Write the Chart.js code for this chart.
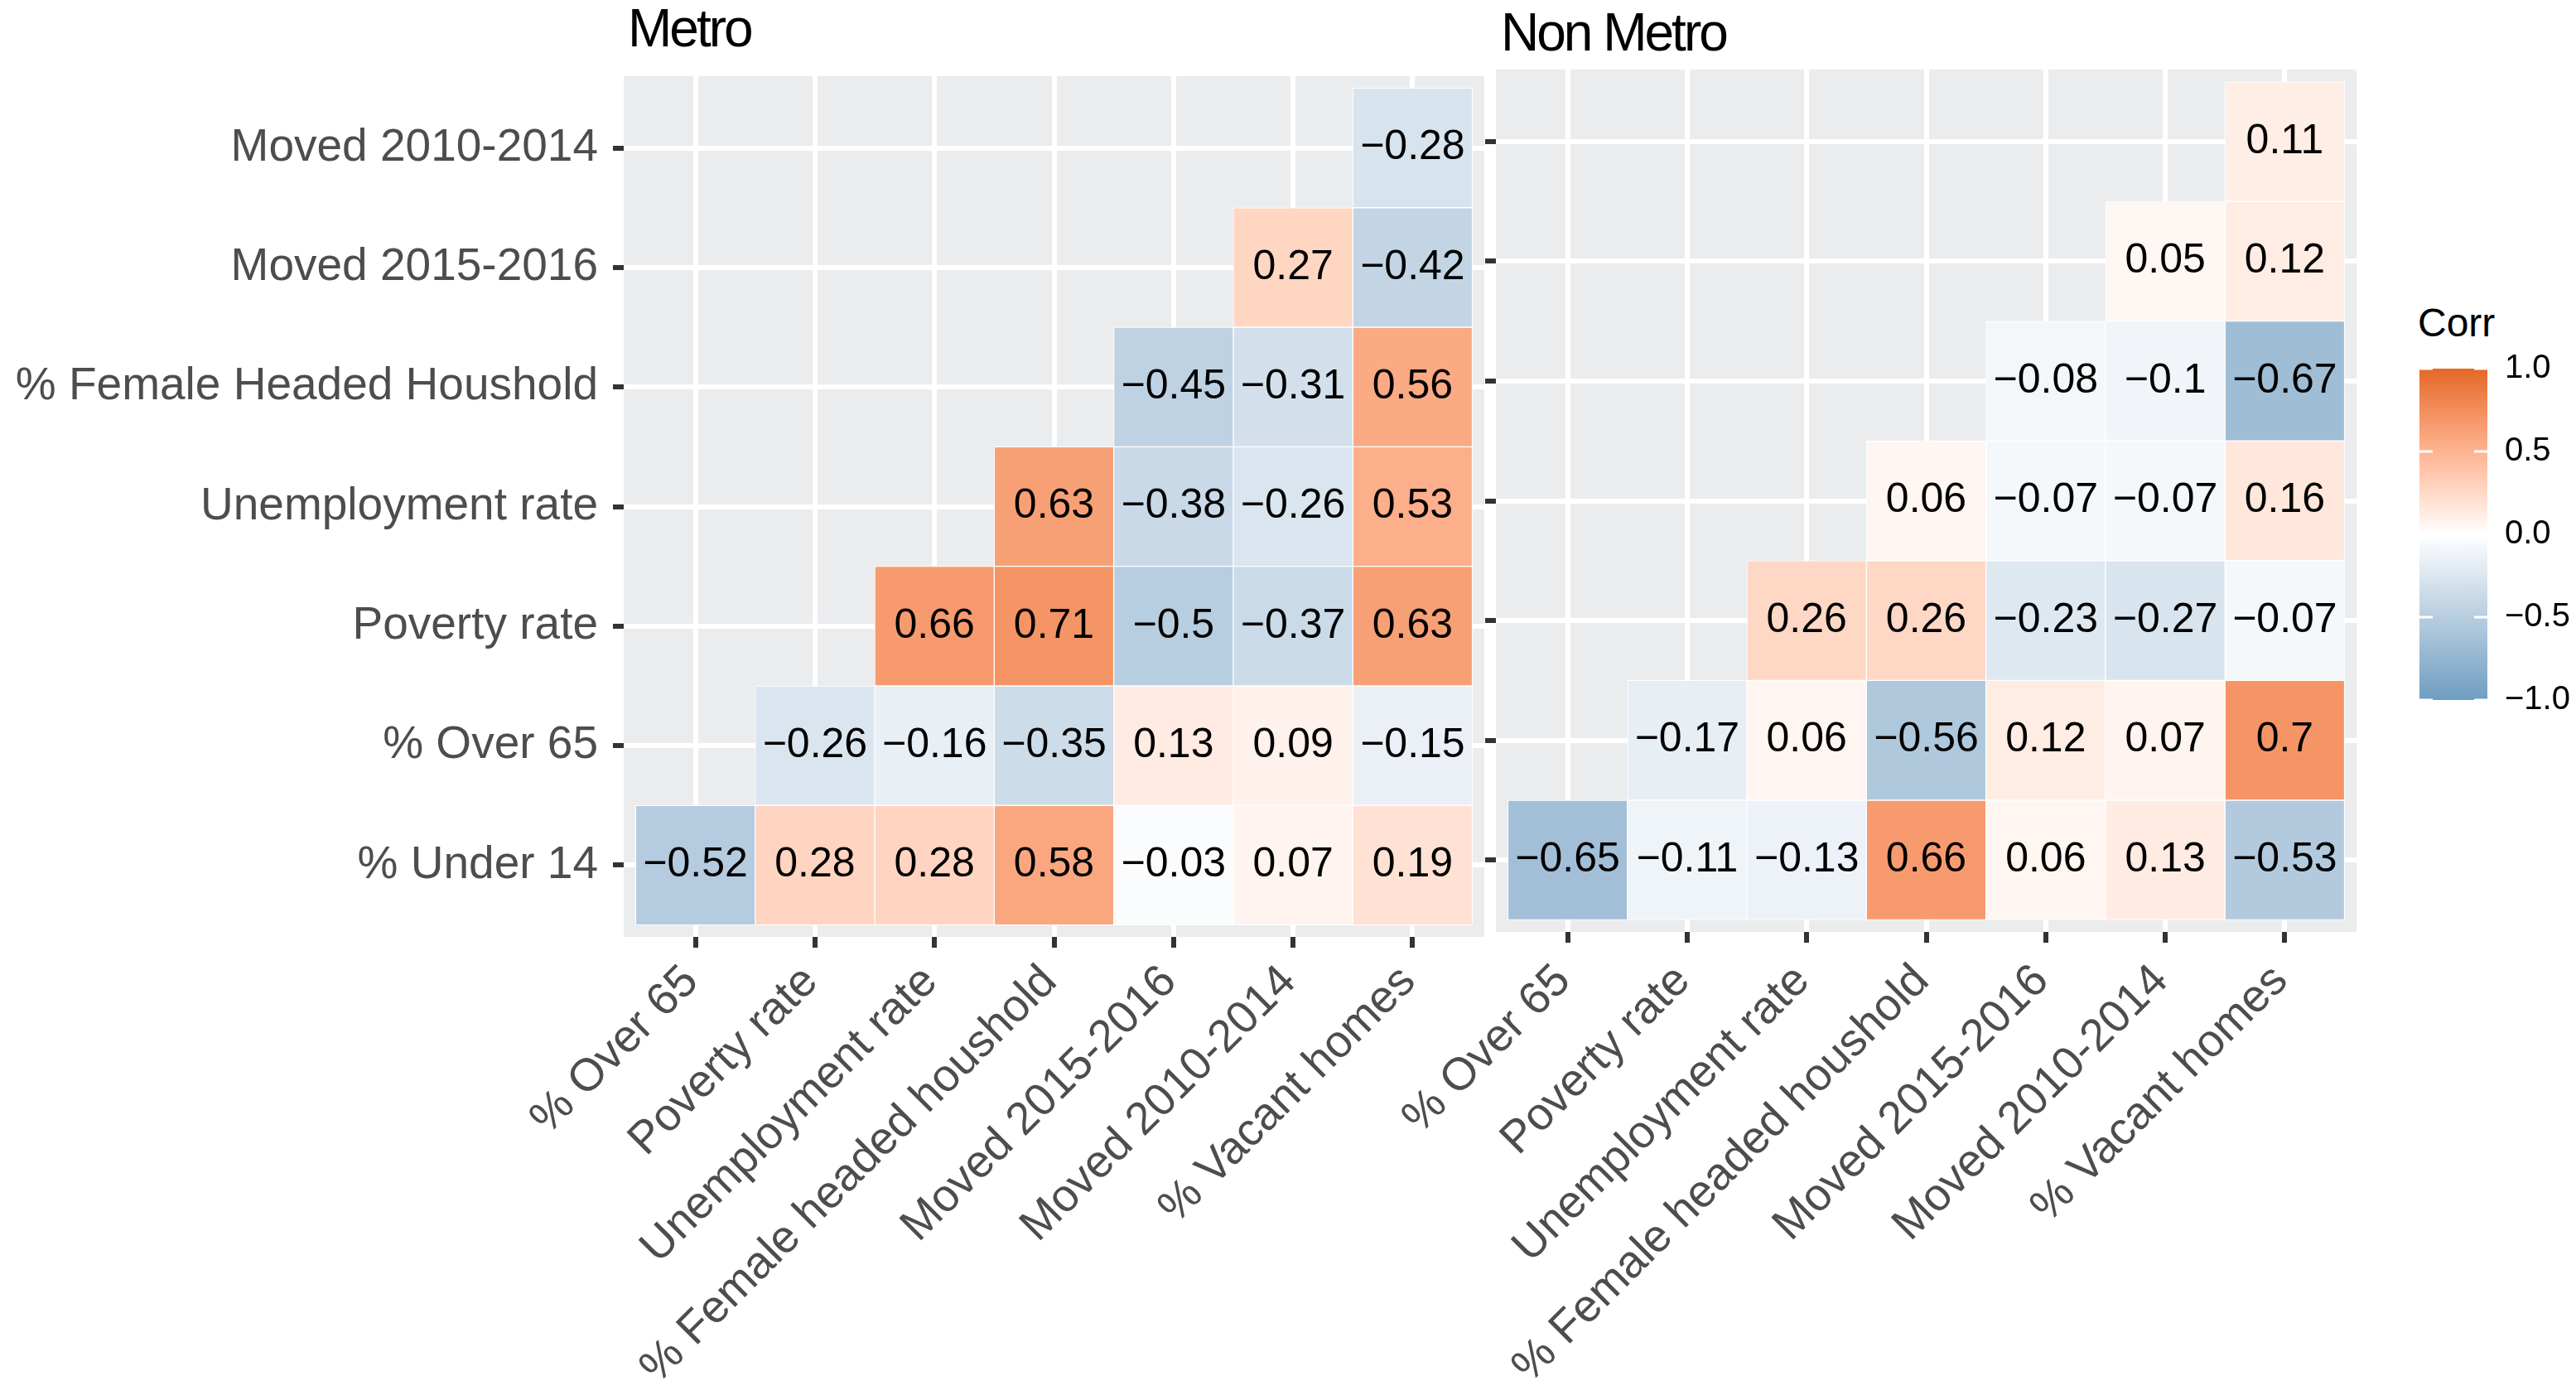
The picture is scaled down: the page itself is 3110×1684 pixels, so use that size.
<!DOCTYPE html>
<html>
<head>
<meta charset="utf-8">
<script src="https://cdn.jsdelivr.net/npm/chart.js@4.4.0/dist/chart.umd.min.js"></script>
<style>
  html, body { margin: 0; padding: 0; background: #fff; width: 3110px; height: 1684px; overflow: hidden; }
  canvas { position: absolute; }
  .ttl { position: absolute; font-family: 'Liberation Sans', Arial, sans-serif; color: #000; line-height: 1; white-space: nowrap; }
</style>
</head>
<body>
<div class="ttl" style="left:758px;top:2px;font-size:64px;letter-spacing:-3px">Metro</div>
<div class="ttl" style="left:1812px;top:7px;font-size:64px;letter-spacing:-3px">Non Metro</div>
<div class="ttl" style="left:2919px;top:366px;font-size:48px">Corr</div>
<canvas id="metro" width="1792" height="1684" style="left:0;top:0"></canvas>
<canvas id="nonmetro" width="1445" height="1684" style="left:1400px;top:0"></canvas>
<canvas id="legend" width="189" height="500" style="left:2921px;top:400px"></canvas>
<script>
// axis variables, rows listed top to bottom
const rowLabels = ['Moved 2010-2014', 'Moved 2015-2016', '% Female Headed Houshold',
  'Unemployment rate', 'Poverty rate', '% Over 65', '% Under 14'];
const colLabels = ['% Over 65', 'Poverty rate', 'Unemployment rate', '% Female headed houshold',
  'Moved 2015-2016', 'Moved 2010-2014', '% Vacant homes'];

// lower triangle of the correlation matrices (null = cell not drawn)
const metroCorr = [
  [null, null, null, null, null, null, -0.28],
  [null, null, null, null, null, 0.27, -0.42],
  [null, null, null, null, -0.45, -0.31, 0.56],
  [null, null, null, 0.63, -0.38, -0.26, 0.53],
  [null, null, 0.66, 0.71, -0.5, -0.37, 0.63],
  [null, -0.26, -0.16, -0.35, 0.13, 0.09, -0.15],
  [-0.52, 0.28, 0.28, 0.58, -0.03, 0.07, 0.19]
];
const nonMetroCorr = [
  [null, null, null, null, null, null, 0.11],
  [null, null, null, null, null, 0.05, 0.12],
  [null, null, null, null, -0.08, -0.1, -0.67],
  [null, null, null, 0.06, -0.07, -0.07, 0.16],
  [null, null, 0.26, 0.26, -0.23, -0.27, -0.07],
  [null, -0.17, 0.06, -0.56, 0.12, 0.07, 0.7],
  [-0.65, -0.11, -0.13, 0.66, 0.06, 0.13, -0.53]
];
const legendTicks = [-1, -0.5, 0, 0.5, 1];

const LOW = '#6D9EC1', MID = '#FFFFFF', HIGH = '#E46726';

Chart.defaults.font.family = "'Liberation Sans', Arial, sans-serif";

// --- colour ramp in CIELAB, like scale_fill_gradient2 ---
const WHITE_PT = [0.95047, 1, 1.08883];

function hexToLab(hex) {
  const lin = [1, 3, 5].map(i => {
    const c = parseInt(hex.substr(i, 2), 16) / 255;
    return c <= 0.04045 ? c / 12.92 : Math.pow((c + 0.055) / 1.055, 2.4);
  });
  const X = 0.4124564 * lin[0] + 0.3575761 * lin[1] + 0.1804375 * lin[2];
  const Y = 0.2126729 * lin[0] + 0.7151522 * lin[1] + 0.0721750 * lin[2];
  const Z = 0.0193339 * lin[0] + 0.1191920 * lin[1] + 0.9503041 * lin[2];
  const f = t => t > Math.pow(6 / 29, 3) ? Math.cbrt(t) : t / (3 * Math.pow(6 / 29, 2)) + 4 / 29;
  const fx = f(X / WHITE_PT[0]), fy = f(Y / WHITE_PT[1]), fz = f(Z / WHITE_PT[2]);
  return [116 * fy - 16, 500 * (fx - fy), 200 * (fy - fz)];
}

function labToRgb(lab) {
  const fy = (lab[0] + 16) / 116;
  const fx = fy + lab[1] / 500;
  const fz = fy - lab[2] / 200;
  const finv = t => t > 6 / 29 ? t * t * t : 3 * Math.pow(6 / 29, 2) * (t - 4 / 29);
  const X = WHITE_PT[0] * finv(fx), Y = WHITE_PT[1] * finv(fy), Z = WHITE_PT[2] * finv(fz);
  const lin = [
    3.2404542 * X - 1.5371385 * Y - 0.4985314 * Z,
    -0.9692660 * X + 1.8760108 * Y + 0.0415560 * Z,
    0.0556434 * X - 0.2040259 * Y + 1.0572252 * Z
  ];
  const rgb = lin.map(c => {
    const v = c <= 0.0031308 ? 12.92 * c : 1.055 * Math.pow(c, 1 / 2.4) - 0.055;
    return Math.round(Math.max(0, Math.min(1, v)) * 255);
  });
  return 'rgb(' + rgb.join(',') + ')';
}

const labLow = hexToLab(LOW), labMid = hexToLab(MID), labHigh = hexToLab(HIGH);

function corrColor(v) {
  const end = v >= 0 ? labHigh : labLow;
  const t = Math.min(1, Math.abs(v));
  return labToRgb(labMid.map((m, i) => m + (end[i] - m) * t));
}

function fmtCorr(v) {
  return String(v).replace('-', '\u2212');
}

function fmtTick(v) {
  return (v < 0 ? '\u2212' : '') + Math.abs(v).toFixed(1);
}

// grey panel behind the tiles
const panelBackground = {
  id: 'panelBackground',
  beforeDraw(chart) {
    const { ctx, chartArea: a } = chart;
    ctx.save();
    ctx.fillStyle = '#EBECEE';
    ctx.fillRect(a.left, a.top, a.width, a.height);
    ctx.restore();
  }
};

// correlation value written in the middle of each tile
const cellLabels = {
  id: 'cellLabels',
  afterDatasetsDraw(chart) {
    const ctx = chart.ctx;
    const meta = chart.getDatasetMeta(0);
    const cells = chart.data.datasets[0].data;
    ctx.save();
    ctx.font = "50px 'Liberation Sans', Arial, sans-serif";
    ctx.fillStyle = '#000000';
    ctx.textAlign = 'center';
    ctx.textBaseline = 'middle';
    meta.data.forEach((bar, i) => {
      const p = bar.getCenterPoint();
      ctx.fillText(fmtCorr(cells[i].v), p.x, p.y);
    });
    ctx.restore();
  }
};

function makePanel(canvasId, matrix, opts) {
  const cells = [];
  matrix.forEach((row, r) => row.forEach((v, c) => {
    if (v !== null) cells.push({ x: c, y: [r - 0.5, r + 0.5], v: v });
  }));

  return new Chart(document.getElementById(canvasId), {
    type: 'bar',
    data: {
      datasets: [{
        data: cells,
        backgroundColor: ctx => (ctx.raw ? corrColor(ctx.raw.v) : MID),
        borderColor: '#FFFFFF',
        borderWidth: 1,
        borderSkipped: false,
        barPercentage: 1,
        categoryPercentage: 1
      }]
    },
    options: {
      responsive: false,
      animation: false,
      layout: { padding: { top: opts.top, left: 0, right: 0, bottom: 0 } },
      plugins: { legend: { display: false }, tooltip: { enabled: false } },
      scales: {
        x: {
          type: 'linear',
          min: -0.6,
          max: 6.6,
          offset: false,
          grid: { offset: false, color: '#FFFFFF', lineWidth: 6, tickColor: '#333333', tickWidth: 6, tickLength: 13 },
          border: { display: false },
          afterBuildTicks: s => { s.ticks = colLabels.map((_, i) => ({ value: i })); },
          afterFit: s => { s.height = opts.xHeight; },
          ticks: {
            autoSkip: false,
            minRotation: 45,
            maxRotation: 45,
            padding: opts.xPad,
            labelOffset: -5,
            color: '#4D4D4D',
            font: { size: 55 },
            callback: v => colLabels[v]
          }
        },
        y: {
          type: 'linear',
          reverse: true,
          min: -0.6,
          max: 6.6,
          grid: { color: '#FFFFFF', lineWidth: 6, tickColor: '#333333', tickWidth: 6, tickLength: 13 },
          border: { display: false },
          afterBuildTicks: s => { s.ticks = rowLabels.map((_, i) => ({ value: i })); },
          afterFit: s => { s.width = opts.yWidth; },
          ticks: {
            autoSkip: false,
            padding: 18,
            color: '#4D4D4D',
            font: { size: 55 },
            callback: v => (opts.showY ? rowLabels[v] : '')
          }
        }
      }
    },
    plugins: [panelBackground, cellLabels]
  });
}

makePanel('metro', metroCorr, { top: 92, xHeight: 553, yWidth: 753, xPad: 9, showY: true });
makePanel('nonmetro', nonMetroCorr, { top: 84, xHeight: 559, yWidth: 406, xPad: 14, showY: false });

// --- colour bar legend ---
function barGradient(chart) {
  if (!chart.chartArea) return MID;
  const ys = chart.scales.y;
  const lo = legendTicks[0], hi = legendTicks[legendTicks.length - 1];
  const g = chart.ctx.createLinearGradient(0, ys.getPixelForValue(lo), 0, ys.getPixelForValue(hi));
  for (let i = 0; i <= 40; i++) {
    const t = i / 40;
    g.addColorStop(t, corrColor(lo + (hi - lo) * t));
  }
  return g;
}

// short white tick marks on both edges of the bar
const barTicks = {
  id: 'barTicks',
  afterDatasetsDraw(chart) {
    const { ctx, chartArea: a } = chart;
    const ys = chart.scales.y;
    ctx.save();
    ctx.strokeStyle = '#FFFFFF';
    ctx.lineWidth = 3;
    legendTicks.forEach(v => {
      const y = ys.getPixelForValue(v);
      ctx.beginPath();
      ctx.moveTo(a.left, y); ctx.lineTo(a.left + 16, y);
      ctx.moveTo(a.right - 16, y); ctx.lineTo(a.right, y);
      ctx.stroke();
    });
    ctx.restore();
  }
};

new Chart(document.getElementById('legend'), {
  type: 'bar',
  data: {
    datasets: [{
      data: [{ x: 0, y: [legendTicks[0], legendTicks[legendTicks.length - 1]] }],
      backgroundColor: ctx => barGradient(ctx.chart),
      borderWidth: 0,
      barPercentage: 1,
      categoryPercentage: 1
    }]
  },
  options: {
    responsive: false,
    animation: false,
    layout: { padding: { top: 42, bottom: 55, left: 0, right: 0 } },
    plugins: { legend: { display: false }, tooltip: { enabled: false } },
    scales: {
      x: {
        type: 'linear', display: false, min: -0.5, max: 0.5, offset: false,
        afterBuildTicks: s => { s.ticks = [{ value: 0 }]; }
      },
      y: {
        type: 'linear',
        position: 'right',
        min: -1,
        max: 1,
        grid: { display: false, drawTicks: false },
        border: { display: false },
        afterBuildTicks: s => { s.ticks = legendTicks.map(v => ({ value: v })); },
        afterFit: s => { s.width = 107; },
        ticks: { padding: 21, color: '#000000', font: { size: 40 }, callback: v => fmtTick(v) }
      }
    }
  },
  plugins: [barTicks]
});
</script>
</body>
</html>
